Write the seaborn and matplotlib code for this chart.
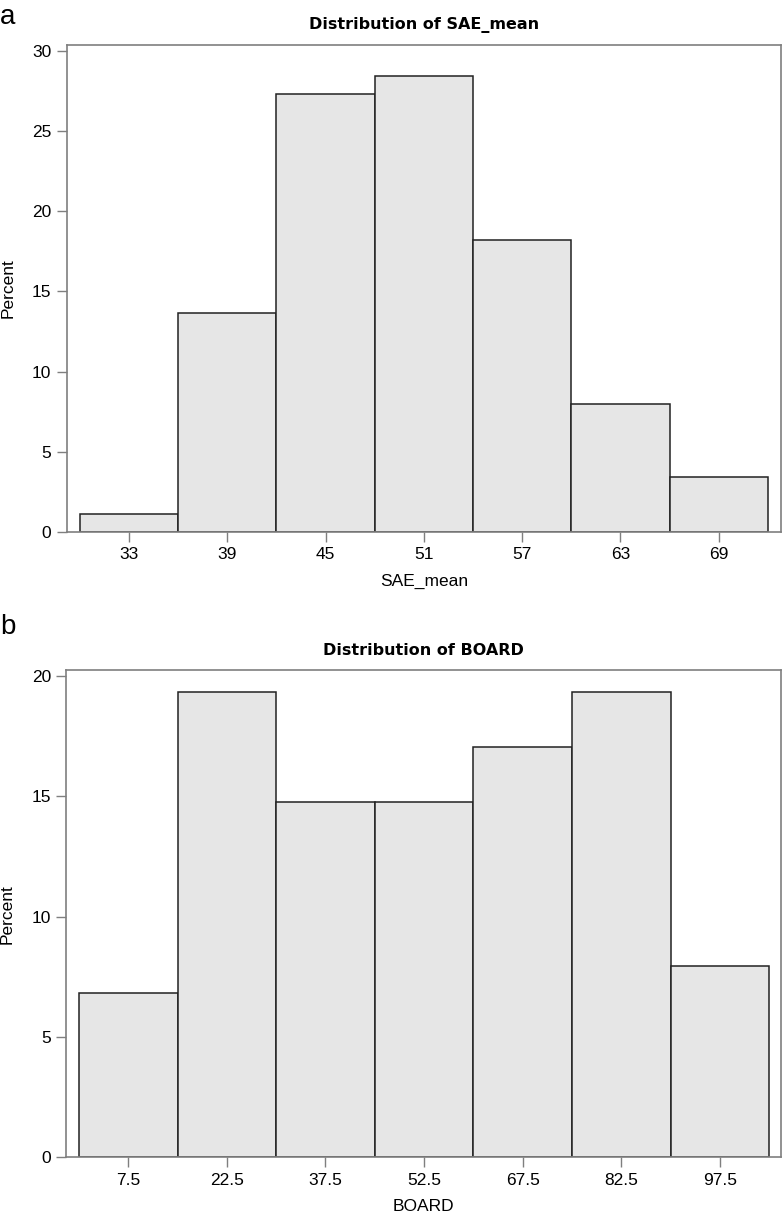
import matplotlib
matplotlib.use("Agg")
import matplotlib.pyplot as plt
import seaborn as sns

# bin centres and counts per bin (88 observations each)
sae_centers = [33, 39, 45, 51, 57, 63, 69]
sae_counts = [1, 12, 24, 25, 16, 7, 3]
sae_edges = [30, 36, 42, 48, 54, 60, 66, 72]

board_centers = [7.5, 22.5, 37.5, 52.5, 67.5, 82.5, 97.5]
board_counts = [6, 17, 13, 13, 15, 17, 7]
board_edges = [0, 15, 30, 45, 60, 75, 90, 105]

sns.set_style("white")
plt.rcParams['font.family'] = ['Liberation Sans', 'DejaVu Sans']
plt.rcParams['text.color'] = 'black'
plt.rcParams['axes.labelcolor'] = 'black'
plt.rcParams['xtick.labelcolor'] = 'black'
plt.rcParams['ytick.labelcolor'] = 'black'

fig = plt.figure(figsize=(7.82, 12.13), dpi=100)
ax1 = fig.add_axes([0.0853, 0.5614, 0.9134, 0.4017])
ax2 = fig.add_axes([0.0850, 0.0458, 0.9137, 0.4019])

grey = "#7f7f7f"
panels = [
    (ax1, sae_centers, sae_counts, sae_edges, "SAE_mean", (29.2, 72.8), (0, 30.37), [0, 5, 10, 15, 20, 25, 30]),
    (ax2, board_centers, board_counts, board_edges, "BOARD", (-1.9, 106.8), (0, 20.25), [0, 5, 10, 15, 20]),
]

for ax, centers, counts, edges, name, xlim, ylim, yticks in panels:
    sns.histplot(x=centers, weights=counts, bins=edges, stat="percent",
                 color="#e6e6e6", edgecolor="#222222", linewidth=1.1, alpha=1, ax=ax)
    ax.set_xlim(*xlim)
    ax.set_ylim(*ylim)
    ax.set_xticks(centers)
    ax.set_xticklabels([f"{c:g}" for c in centers])
    ax.set_yticks(yticks)
    ax.set_title(f"Distribution of {name}", fontsize=11.5, fontweight="bold",
                 family="DejaVu Sans", color="black", pad=11)
    ax.set_xlabel(name, fontsize=12.5, labelpad=8)
    ax.set_ylabel("Percent", fontsize=12.5, labelpad=12)
    ax.tick_params(axis="both", direction="out", length=7, width=1, color=grey,
                   labelsize=12.5, pad=4, bottom=True, left=True)
    for sp in ax.spines.values():
        sp.set_color(grey)
        sp.set_linewidth(1.2)
        sp.set_visible(True)

fig.text(0.0, 0.997, "a", fontsize=20, va="top", ha="left")
fig.text(0.0, 0.494, "b", fontsize=20, va="top", ha="left")

fig.savefig("out.png", dpi=100)
